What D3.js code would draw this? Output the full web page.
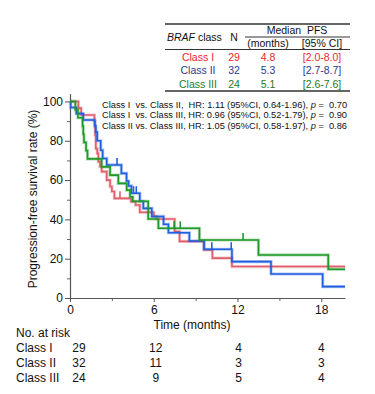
<!DOCTYPE html>
<html>
<head>
<meta charset="utf-8">
<script src="https://cdn.jsdelivr.net/npm/d3@7"></script>
<style>
  body { margin: 0; background: #fff; }
  text { font-family: "Liberation Sans", Arial, sans-serif; white-space: pre; }
</style>
</head>
<body>
<div id="chart"></div>
<script>
// ---- data ----
const classNames = ["Class I", "Class II", "Class III"];
const curveColors = ["#e0606c", "#1f5fe0", "#1f9a2a"];
const textColors = ["#e8262e", "#2b3a8c", "#1f7a1f"];

// KM steps: [time (months), survival (%)]
const stepsI = [[0,100],[0.6,96.6],[0.8,93.1],[1.75,89.7],[1.8,82.8],[1.85,76],[1.95,73.6],[2.03,69.4],
  [2.15,66.8],[2.27,64.3],[2.63,60],[2.87,56.7],[3.0,54.2],[3.18,50.7],[4.37,49],[4.7,47.3],[5.0,43.6],
  [6.0,41.6],[6.2,40.2],[7.5,33.8],[7.85,28.8],[9.6,24.5],[10.2,20.3],[11.6,16.0]];
const stepsII = [[0,100],[0.05,96.9],[0.45,93.8],[0.95,90.6],[1.77,87.5],[1.85,84.4],[1.95,80],[2.2,75.2],
  [2.34,71],[2.63,67.7],[3.68,63.4],[4.05,59.5],[4.2,57],[4.4,53.3],[5.0,49.2],[5.25,45.6],[5.86,41.5],
  [6.7,37.5],[7.05,33.2],[8.55,29],[9.6,24.8],[11.6,18.5],[14.4,12.2],[18.1,5.8]];
const stepsIII = [[0,100],[0.38,95.8],[0.57,91.7],[0.9,87.5],[0.95,83.3],[1.0,79.2],[1.15,75],[1.25,70.8],
  [2.27,66.7],[2.87,62.5],[3.46,58.3],[4.06,54.9],[4.3,51.5],[4.5,49.2],[5.6,40.2],[6.33,35.5],
  [9.27,29.5],[13.5,21.9],[18.5,14.6]];
const censorI = [3.58];
const censorII = [3.37, 4.55, 4.75, 10.16, 11.55];
const censorIII = [7.46, 7.9, 12.4];

const riskTimes = [0, 6, 12, 18];
const riskI = [29, 12, 4, 4];
const riskII = [32, 11, 3, 3];
const riskIII = [24, 9, 5, 4];

const nPatients = [29, 32, 24];
const medianPFS = ["4.8", "5.3", "5.1"];
const medianCI = ["[2.0-8.0]", "[2.7-8.7]", "[2.6-7.6]"];

const hrLines = [
  ["Class I  vs. Class II,  HR: 1.11 (95%CI, 0.64-1.96), ", "0.70"],
  ["Class I  vs. Class III, HR: 0.96 (95%CI, 0.52-1.79), ", "0.90"],
  ["Class II vs. Class III, HR: 1.05 (95%CI, 0.58-1.97), ", "0.86"]
];

const xTicks = [0, 6, 12, 18];
const xMinor = [3, 9, 15];
const yTicks = [0, 20, 40, 60, 80, 100];
const yMinor = [10, 30, 50, 70, 90];

// ---- layout ----
const width = 375, height = 394;
const xMax = 19.7;

const svg = d3.select("#chart").append("svg")
    .attr("width", width)
    .attr("height", height);

const x = d3.scaleLinear().domain([0, xMax]).range([70, 345]);
const y = d3.scaleLinear().domain([0, 104]).range([298, 93.6]);

// minor ticks first (no labels)
svg.append("g")
    .attr("transform", "translate(0,298)")
    .call(d3.axisBottom(x).tickValues(xMinor).tickSize(3).tickFormat(""))
    .call(g => g.select(".domain").remove())
    .selectAll("line").attr("stroke", "#666");
svg.append("g")
    .attr("transform", "translate(70,0)")
    .call(d3.axisLeft(y).tickValues(yMinor).tickSize(3).tickFormat(""))
    .call(g => g.select(".domain").remove())
    .selectAll("line").attr("stroke", "#666");

// X axis
const gx = svg.append("g")
    .attr("transform", "translate(0,298)")
    .call(d3.axisBottom(x).tickValues(xTicks).tickSize(4).tickSizeOuter(0).tickPadding(3));
gx.select(".domain").attr("stroke", "#555").attr("stroke-width", 1.2);
gx.selectAll("line").attr("stroke", "#555");
gx.selectAll("text").attr("font-size", "12px").attr("fill", "#111")
    .attr("font-family", "Liberation Sans, Arial, sans-serif");

// Y axis
const gy = svg.append("g")
    .attr("transform", "translate(70,0)")
    .call(d3.axisLeft(y).tickValues(yTicks).tickSize(5).tickSizeOuter(0).tickPadding(2));
gy.select(".domain").attr("stroke", "#555").attr("stroke-width", 1.2);
gy.selectAll("line").attr("stroke", "#555");
gy.selectAll("text").attr("font-size", "12px").attr("fill", "#111")
    .attr("font-family", "Liberation Sans, Arial, sans-serif");

// axis titles
svg.append("text")
    .attr("text-anchor", "middle")
    .attr("font-size", "12px")
    .attr("fill", "#111")
    .attr("x", 192)
    .attr("y", 329)
    .text("Time (months)");

svg.append("text")
    .attr("text-anchor", "middle")
    .attr("font-size", "12px")
    .attr("fill", "#111")
    .attr("transform", "translate(37,199) rotate(-90)")
    .text("Progression-free survival rate (%)");

// ---- curves ----
const allSteps = [stepsI, stepsII, stepsIII];
const allCensor = [censorI, censorII, censorIII];

function survAt(steps, t) {
  let s = steps[0][1];
  steps.forEach(d => { if (d[0] <= t) s = d[1]; });
  return s;
}

const line = d3.line()
    .x(d => x(d[0]))
    .y(d => y(d[1]))
    .curve(d3.curveStepAfter);

allSteps.forEach((steps, i) => {
  const pts = steps.concat([[xMax, steps[steps.length - 1][1]]]);
  // soft halo under the line
  svg.append("path")
      .datum(pts)
      .attr("fill", "none")
      .attr("stroke", curveColors[i])
      .attr("stroke-opacity", 0.35)
      .attr("stroke-width", 3.2)
      .attr("d", line);
  svg.append("path")
      .datum(pts)
      .attr("fill", "none")
      .attr("stroke", curveColors[i])
      .attr("stroke-width", 1.6)
      .attr("d", line);
  svg.selectAll(null)
      .data(allCensor[i])
      .enter()
      .append("line")
      .attr("stroke", curveColors[i])
      .attr("stroke-width", 1.6)
      .attr("x1", d => x(d))
      .attr("x2", d => x(d))
      .attr("y1", d => y(survAt(steps, d)))
      .attr("y2", d => y(survAt(steps, d)) - 7);
});

// ---- HR text: 9.7px glyphs squeezed horizontally so each line spans ~245px ----
hrLines.forEach((l, i) => {
  const g = svg.append("g").attr("transform", `translate(102,${107.5 + i * 10.5})`);
  const t = g.append("text")
      .attr("x", 0)
      .attr("y", 0)
      .attr("font-size", "9.7px")
      .attr("fill", "#111");
  t.append("tspan").text(l[0]);
  t.append("tspan").attr("font-style", "italic").text("p");
  t.append("tspan").text(" =  " + l[1]);
  const w = t.node().getComputedTextLength();
  t.attr("transform", `scale(${(245 / w).toFixed(3)},1)`);
});

// ---- median PFS table ----
const tbl = svg.append("g").attr("font-size", "10.5px");
const rule = (x1, x2, yy, w) => tbl.append("line")
    .attr("x1", x1).attr("x2", x2).attr("y1", yy).attr("y2", yy)
    .attr("stroke", "#333").attr("stroke-width", w);
rule(165, 350, 24, 1.5);
rule(245, 350, 37, 1);
rule(165, 350, 49.5, 1);
rule(165, 350, 91, 1.5);

const hdr = tbl.append("text").attr("x", 167).attr("y", 40.5).attr("fill", "#111");
hdr.append("tspan").attr("font-style", "italic").text("BRAF");
hdr.append("tspan").text(" class");
tbl.append("text").attr("x", 234).attr("y", 40.5).attr("text-anchor", "middle").attr("fill", "#111").text("N");
tbl.append("text").attr("x", 297).attr("y", 34).attr("text-anchor", "middle").attr("fill", "#111").text("Median  PFS");
tbl.append("text").attr("x", 268).attr("y", 47).attr("text-anchor", "middle").attr("fill", "#111").text("(months)");
tbl.append("text").attr("x", 322).attr("y", 47).attr("text-anchor", "middle").attr("fill", "#111").text("[95% CI]");

classNames.forEach((c, i) => {
  const yy = 60.5 + i * 13.8;
  const col = textColors[i];
  tbl.append("text").attr("x", 198).attr("y", yy).attr("text-anchor", "middle").attr("fill", col).text(c);
  tbl.append("text").attr("x", 234).attr("y", yy).attr("text-anchor", "middle").attr("fill", col).text(nPatients[i]);
  tbl.append("text").attr("x", 268).attr("y", yy).attr("text-anchor", "middle").attr("fill", col).text(medianPFS[i]);
  tbl.append("text").attr("x", 322).attr("y", yy).attr("text-anchor", "middle").attr("fill", col).text(medianCI[i]);
});

// ---- number at risk ----
const riskRows = [riskI, riskII, riskIII];
const riskNudge = [9, 2, 1, 0];
svg.append("text")
    .attr("x", 16).attr("y", 337)
    .attr("font-size", "12px").attr("fill", "#111")
    .text("No. at risk");
riskRows.forEach((row, i) => {
  const yy = 352 + i * 14.8;
  svg.append("text")
      .attr("x", 16).attr("y", yy)
      .attr("font-size", "12px").attr("fill", "#111")
      .text(classNames[i]);
  svg.selectAll(null)
      .data(row)
      .enter()
      .append("text")
      .attr("x", (d, j) => x(riskTimes[j]) + riskNudge[j])
      .attr("y", yy)
      .attr("text-anchor", "middle")
      .attr("font-size", "12px")
      .attr("fill", "#111")
      .text(d => d);
});
</script>
</body>
</html>
